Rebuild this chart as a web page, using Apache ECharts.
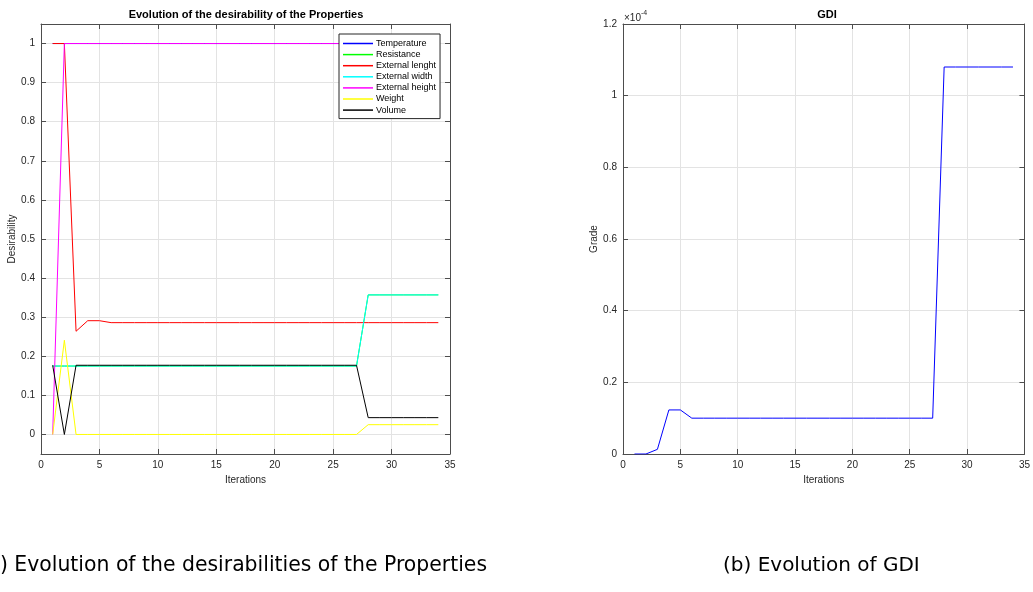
<!DOCTYPE html>
<html>
<head>
<meta charset="utf-8">
<script src="https://cdn.jsdelivr.net/npm/echarts@6/dist/echarts.min.js"></script>
<style>
html,body{margin:0;padding:0;background:#fff;}
#chart{width:1033px;height:592px;}
</style>
</head>
<body>
<div id="chart"></div>
<script>
// ---- data ----
const iterations = [1,2,3,4,5,6,7,8,9,10,11,12,13,14,15,16,17,18,19,20,21,22,23,24,25,26,27,28,29,30,31,32,33,34];
const temperature = [1,1,1,1,1,1,1,1,1,1,1,1,1,1,1,1,1,1,1,1,1,1,1,1,1,1,1,1,1,1,1,1,1,1];
const resistance = [0.175,0.175,0.175,0.175,0.175,0.175,0.175,0.175,0.175,0.175,0.175,0.175,0.175,0.175,0.175,0.175,0.175,0.175,0.175,0.175,0.175,0.175,0.175,0.175,0.175,0.175,0.175,0.357,0.357,0.357,0.357,0.357,0.357,0.357];
const externalLength = [1,1,0.264,0.291,0.291,0.286,0.286,0.286,0.286,0.286,0.286,0.286,0.286,0.286,0.286,0.286,0.286,0.286,0.286,0.286,0.286,0.286,0.286,0.286,0.286,0.286,0.286,0.286,0.286,0.286,0.286,0.286,0.286,0.286];
const externalWidth = [0.175,0.175,0.175,0.175,0.175,0.175,0.175,0.175,0.175,0.175,0.175,0.175,0.175,0.175,0.175,0.175,0.175,0.175,0.175,0.175,0.175,0.175,0.175,0.175,0.175,0.175,0.175,0.357,0.357,0.357,0.357,0.357,0.357,0.357];
const externalHeight = [0,1,1,1,1,1,1,1,1,1,1,1,1,1,1,1,1,1,1,1,1,1,1,1,1,1,1,1,1,1,1,1,1,1];
const weight = [0,0.241,0,0,0,0,0,0,0,0,0,0,0,0,0,0,0,0,0,0,0,0,0,0,0,0,0,0.025,0.025,0.025,0.025,0.025,0.025,0.025];
const volume = [0.177,0,0.177,0.177,0.177,0.177,0.177,0.177,0.177,0.177,0.177,0.177,0.177,0.177,0.177,0.177,0.177,0.177,0.177,0.177,0.177,0.177,0.177,0.177,0.177,0.177,0.177,0.043,0.043,0.043,0.043,0.043,0.043,0.043];
// GDI in units of 1e-4
const gdi = [0,0,0.013,0.123,0.123,0.1,0.1,0.1,0.1,0.1,0.1,0.1,0.1,0.1,0.1,0.1,0.1,0.1,0.1,0.1,0.1,0.1,0.1,0.1,0.1,0.1,0.1,1.08,1.08,1.08,1.08,1.08,1.08,1.08];

const seriesNames = ['Temperature','Resistance','External lenght','External width','External height','Weight','Volume'];
const seriesData = [temperature, resistance, externalLength, externalWidth, externalHeight, weight, volume];
const seriesColors = ['#0000ff','#00ff00','#ff0000','#00ffff','#ff00ff','#ffff00','#000000'];
const yTicksLeft = [0,0.1,0.2,0.3,0.4,0.5,0.6,0.7,0.8,0.9,1];

const FONT = 'Liberation Sans';
const CAPFONT = 'DejaVu Sans';
const axisCol = '#4d4d4d';
const gridCol = '#e3e3e3';
const labelCol = '#262626';

function pairs(arr){ return iterations.map((x,i)=>[x,arr[i]]); }

function xAx(gridIndex, pos, show){
  return {
    type:'value', gridIndex, position:pos, min:0, max:35, interval:5,
    axisLine:{show:true, onZero:false, lineStyle:{color:axisCol,width:1}},
    axisTick:{show:true, inside:true, length:5, lineStyle:{color:axisCol}},
    axisLabel:{show:show, color:labelCol, fontFamily:FONT, fontSize:10, margin:6},
    splitLine:{show:show, lineStyle:{color:gridCol,width:1}},
    name: show ? 'Iterations' : '', nameLocation:'middle', nameGap:21,
    nameTextStyle:{color:labelCol, fontFamily:FONT, fontSize:10}
  };
}
function yAxLeft(pos, show){
  return {
    type:'value', gridIndex:0, position:pos, min:-0.05, max:1.05,
    axisLine:{show:true, onZero:false, lineStyle:{color:axisCol,width:1}},
    axisTick:{show:true, inside:true, length:5, customValues:yTicksLeft, lineStyle:{color:axisCol}},
    axisLabel:{show:show, customValues:yTicksLeft, color:labelCol, fontFamily:FONT, fontSize:10, margin:6,
      formatter:v=>String(Math.round(v*10)/10)},
    splitLine:{show:show, lineStyle:{color:gridCol,width:1}},
    name: show ? 'Desirability' : '', nameLocation:'middle', nameGap:17,
    nameTextStyle:{color:labelCol, fontFamily:FONT, fontSize:10}
  };
}
function yAxRight(pos, show){
  return {
    type:'value', gridIndex:1, position:pos, min:0, max:1.2, interval:0.2,
    axisLine:{show:true, onZero:false, lineStyle:{color:axisCol,width:1}},
    axisTick:{show:true, inside:true, length:5, lineStyle:{color:axisCol}},
    axisLabel:{show:show, color:labelCol, fontFamily:FONT, fontSize:10, margin:6,
      formatter:v=>String(Math.round(v*10)/10)},
    splitLine:{show:show, lineStyle:{color:gridCol,width:1}},
    name: show ? 'Grade' : '', nameLocation:'middle', nameGap:17,
    nameTextStyle:{color:labelCol, fontFamily:FONT, fontSize:10}
  };
}

const series = seriesNames.map((n,i)=>({
  name:n, type:'line', xAxisIndex:0, yAxisIndex:0, data:pairs(seriesData[i]),
  symbol:'none', showSymbol:false, animation:false,
  lineStyle:{color:seriesColors[i], width:1}, itemStyle:{color:seriesColors[i]}
}));
series.push({
  name:'GDI', type:'line', xAxisIndex:2, yAxisIndex:2, data:pairs(gdi),
  symbol:'none', showSymbol:false, animation:false,
  lineStyle:{color:'#0000ff', width:1}, itemStyle:{color:'#0000ff'}
});

const chart = echarts.init(document.getElementById('chart'), null, {renderer:'canvas'});
chart.setOption({
  animation:false,
  backgroundColor:'#fff',
  title:[
    {text:'Evolution of the desirability of the Properties', left:246, top:9, textAlign:'center',
      padding:0, textStyle:{fontFamily:FONT, fontSize:11, fontWeight:'bold', color:'#000'}},
    {text:'GDI', left:827, top:9, textAlign:'center',
      padding:0, textStyle:{fontFamily:FONT, fontSize:11, fontWeight:'bold', color:'#000'}}
  ],
  grid:[
    {left:41, top:24, width:409, height:430, containLabel:false},
    {left:623, top:24, width:407, height:430, containLabel:false}
  ],
  xAxis:[ xAx(0,'bottom',true), xAx(0,'top',false), xAx(1,'bottom',true), xAx(1,'top',false) ],
  yAxis:[ yAxLeft('left',true), yAxLeft('right',false), yAxRight('left',true), yAxRight('right',false) ],
  legend:{
    data:seriesNames, orient:'vertical', left:339, top:34,
    icon:'rect', itemWidth:30, itemHeight:1.5, itemGap:2.1,
    padding:[5,4,4,4], borderColor:'#262626', borderWidth:1, backgroundColor:'#fff',
    textStyle:{fontFamily:FONT, fontSize:9, lineHeight:9, color:'#000', padding:[0,0,0,-2]},
    selectedMode:false
  },
  graphic:[
    {type:'text', left:624, top:10, style:{
      text:'{a|×10}{b|-4}', rich:{
        a:{fontFamily:FONT, fontSize:10, fill:labelCol, verticalAlign:'bottom'},
        b:{fontFamily:FONT, fontSize:7, fill:labelCol, verticalAlign:'bottom', padding:[0,0,6,0]}
      }}},
    {type:'text', right:1033-487, top:556, style:{
      text:'(a) Evolution of the desirabilities of the Properties', fontFamily:CAPFONT, fontSize:20.4, fill:'#000'}},
    {type:'text', left:723, top:556, style:{
      text:'(b) Evolution of GDI', fontFamily:CAPFONT, fontSize:20, fill:'#000'}}
  ],
  series:series
});
</script>
</body>
</html>
